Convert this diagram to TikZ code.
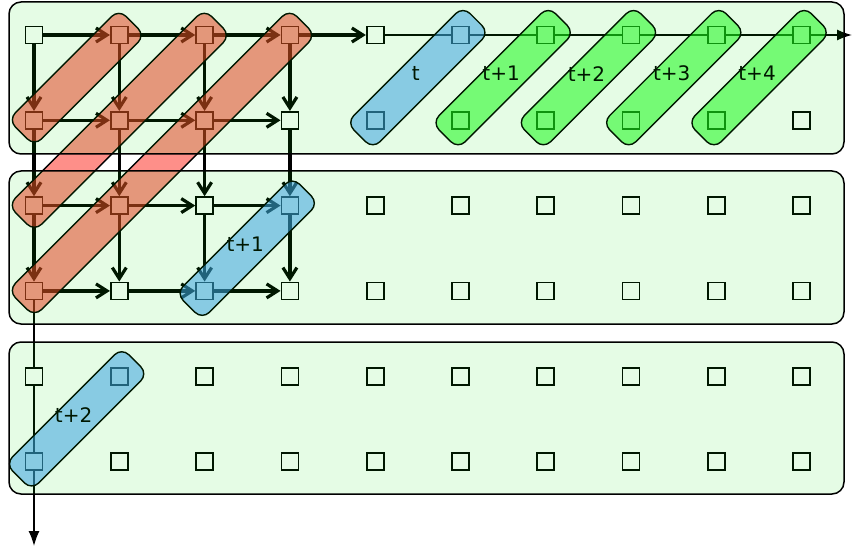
\documentclass[tikz,border=0pt]{standalone}
\usepackage{fontspec}
\newfontfamily\steplabelfont{DejaVu Sans}
\usepackage{tikz}
\usetikzlibrary{arrows.meta,calc,positioning}
\definecolor{panelgreen}{RGB}{0,230,0}
\definecolor{bandred}{RGB}{253,51,40}
\definecolor{bandblue}{RGB}{68,155,251}
\definecolor{bandgreen}{RGB}{30,250,30}
\tikzset{
  cell/.style={draw=black, fill=white, line width=1.7pt, minimum size=17pt, inner sep=0pt},
  thickedge/.style={line width=3.2pt, -{Straight Barb[length=11pt,width=14pt]}},
  thinedge/.style={line width=1.4pt},
  thinarrow/.style={line width=1.4pt, -{Latex[length=15pt,width=11pt]}},
  band/.style={draw=black, line width=1.4pt, fill opacity=0.55, rounded corners=10pt,
    rotate=45, minimum height=37pt, inner sep=0pt},
  panel/.style={draw=black, line width=1.5pt, fill=panelgreen, fill opacity=0.1, rounded corners=12pt},
  steplabel/.style={font=\steplabelfont\fontsize{20}{24}\selectfont, inner sep=0pt}
}
\newcommand{\diagband}[4]{%
  \path let \p1=($(#3)-(#2)$), \n1={veclen(\x1,\y1)} in
    node[band, fill=#1, minimum width=\n1+#4] at ($(#2)!0.5!(#3)$) {};}

\begin{document}
\begin{tikzpicture}[x=1pt, y=-1pt]
                \useasboundingbox (0,0) rectangle (853,548);
                %Cells
                \foreach \i in {0,...,5}
                  \foreach \j in {0,...,9}
                    \node[cell] (n-\i-\j) at ({34+\j*85.3},{35+\i*85.3}) {};
                \coordinate (east end) at (852,35);
                \coordinate (south end) at (34,546);
                %Draw edges
                \foreach \i in {0,1,2,3}{
                  \foreach \j in {0,1,2}{
                    \pgfmathtruncatemacro{\k}{\j+1}
                    \draw[thickedge] (n-\i-\j) -- (n-\i-\k);
                    \draw[thickedge] (n-\j-\i) -- (n-\k-\i);
                  }
                }
                \draw[thickedge] (n-0-3) -- (n-0-4);
                \foreach \j in {4,...,8}{
                  \pgfmathtruncatemacro{\k}{\j+1}
                  \draw[thinedge] (n-0-\j) -- (n-0-\k);
                }
                \draw[thinarrow] (n-0-9) -- (east end);
                \draw[thinedge] (n-3-0) -- (n-4-0);
                \draw[thinedge] (n-4-0) -- (n-5-0);
                \draw[thinarrow] (n-5-0) -- (south end);
                %Bands
                \diagband{bandred}{n-1-0}{n-0-1}{36pt}
                \diagband{bandred}{n-2-0}{n-0-2}{36pt}
                \diagband{bandred}{n-3-0}{n-0-3}{36pt}
                \diagband{bandblue}{n-1-4}{n-0-5}{44pt}
                \diagband{bandblue}{n-3-2}{n-2-3}{44pt}
                \diagband{bandblue}{n-5-0}{n-4-1}{44pt}
                \diagband{bandgreen}{n-1-5}{n-0-6}{44pt}
                \diagband{bandgreen}{n-1-6}{n-0-7}{44pt}
                \diagband{bandgreen}{n-1-7}{n-0-8}{44pt}
                \diagband{bandgreen}{n-1-8}{n-0-9}{44pt}
                %Labels
                \node[steplabel, xshift=-2pt, yshift=4pt] (lab-t) at ($(n-1-4)!0.5!(n-0-5)$) {t};
                \node[steplabel, xshift=-2pt, yshift=4pt] (lab-t1) at ($(n-1-5)!0.5!(n-0-6)$) {t+1};
                \node[steplabel, xshift=-2pt, yshift=4pt] (lab-t2) at ($(n-1-6)!0.5!(n-0-7)$) {t+2};
                \node[steplabel, xshift=-2pt, yshift=4pt] (lab-t3) at ($(n-1-7)!0.5!(n-0-8)$) {t+3};
                \node[steplabel, xshift=-2pt, yshift=4pt] (lab-t4) at ($(n-1-8)!0.5!(n-0-9)$) {t+4};
                \node[steplabel, xshift=-2pt, yshift=4pt] (lab-s1) at ($(n-3-2)!0.5!(n-2-3)$) {t+1};
                \node[steplabel, xshift=-3pt, yshift=4pt] (lab-s2) at ($(n-5-0)!0.5!(n-4-1)$) {t+2};
                %Panels
                \draw[panel] (9,2) rectangle (844,154);
                \draw[panel] (9,171) rectangle (844,324);
                \draw[panel] (9,342) rectangle (844,494);
\end{tikzpicture}
\end{document}
